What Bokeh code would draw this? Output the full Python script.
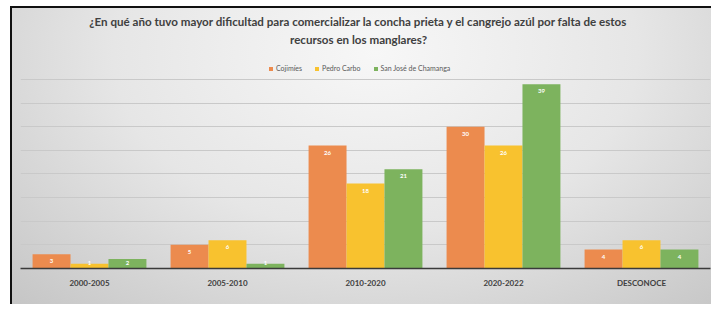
import numpy as np
from bokeh.plotting import figure
from bokeh.models import (ColumnDataSource, Range1d, FixedTicker, Legend, LegendItem, Label)
from bokeh.core.properties import value
from bokeh.embed import file_html
from bokeh.resources import INLINE

categories = ["2000-2005", "2005-2010", "2010-2020", "2020-2022", "DESCONOCE"]
series_names = ["Cojimíes", "Pedro Carbo", "San José de Chamanga"]
cojimies = [3, 5, 26, 30, 4]
pedro_carbo = [1, 6, 18, 26, 6]
chamanga = [2, 1, 21, 39, 4]
colors = ["#EC8B4E", "#F8C22F", "#7DB35E"]
title_line1 = "¿En qué año tuvo mayor dificultad para comercializar la concha prieta y el cangrejo azúl por falta de estos"
title_line2 = "recursos en los manglares?"

FONT = "Lato"
n = len(categories)
bar_w = 0.275

p = figure(width=701, height=298, output_backend="svg", toolbar_location=None,
           x_range=Range1d(0, 5), y_range=Range1d(0, 55.0),
           min_border_left=8, min_border_right=3, min_border_top=0, min_border_bottom=38,
           border_fill_color=None, background_fill_color=None, outline_line_color=None)
p.margin = (6, 0, 0, 10)
p.styles = {
    "background": "radial-gradient(ellipse 75% 120% at 52% 15%, #f7f7f7 0%, #e6e6e6 50%, #c5c5c5 100%)",
    "border-top": "2px solid #111111",
    "border-left": "2px solid #111111",
}

base = np.arange(n) + 0.5
all_series = [cojimies, pedro_carbo, chamanga]
offsets = [-bar_w, 0.0, bar_w]
renderers = []
for vals, off, col, name in zip(all_series, offsets, colors, series_names):
    v = np.array(vals, dtype=float)
    lab_y = np.maximum(v - 1.5, 1.25)
    src = ColumnDataSource(dict(x=base + off, top=vals, ly=lab_y, lab=[str(x) for x in vals]))
    r = p.vbar(x="x", top="top", width=bar_w, source=src, fill_color=col, line_color=None)
    renderers.append((name, r))
    p.text(x="x", y="ly", text="lab", source=src, text_color="white",
           text_font=value(FONT), text_font_style="bold", text_font_size="6px",
           text_align="center", text_baseline="middle")

p.xaxis.ticker = FixedTicker(ticks=list(base))
p.xaxis.major_label_overrides = {float(b): c for b, c in zip(base, categories)}
p.xaxis.major_tick_line_color = None
p.xaxis.minor_tick_line_color = None
p.xaxis.axis_line_color = "#3a3a3a"
p.xaxis.axis_line_width = 1.5
p.xaxis.major_label_text_font = FONT
p.xaxis.major_label_text_font_style = "bold"
p.xaxis.major_label_text_font_size = "8px"
p.xaxis.major_label_text_color = "#404040"
p.xaxis.major_label_standoff = 3

p.yaxis.visible = False
p.ygrid.ticker = FixedTicker(ticks=[5, 10, 15, 20, 25, 30, 35, 40])
p.ygrid.grid_line_color = "#c9c9c9"
p.ygrid.grid_line_width = 1
p.xgrid.grid_line_color = None

legend = Legend(items=[LegendItem(label=nm, renderers=[r]) for nm, r in renderers],
                orientation="horizontal", location=(248, 196),
                background_fill_alpha=0, border_line_color=None,
                label_text_font=FONT, label_text_font_size="7px", label_text_color="#595959",
                glyph_width=5, glyph_height=5, label_standoff=3, spacing=12,
                padding=0, margin=0, label_height=8)
p.add_layout(legend, "center")

t1 = Label(x=338, y=247, x_units="screen", y_units="screen", text=title_line1,
           text_font=FONT, text_font_style="bold", text_font_size="11.6px",
           text_color="#404040", text_align="center", text_baseline="middle")
t2 = Label(x=338, y=229, x_units="screen", y_units="screen", text=title_line2,
           text_font=FONT, text_font_style="bold", text_font_size="11.6px",
           text_color="#404040", text_align="center", text_baseline="middle")
p.add_layout(t1)
p.add_layout(t2)

open("out.html", "w").write(file_html(p, INLINE))
